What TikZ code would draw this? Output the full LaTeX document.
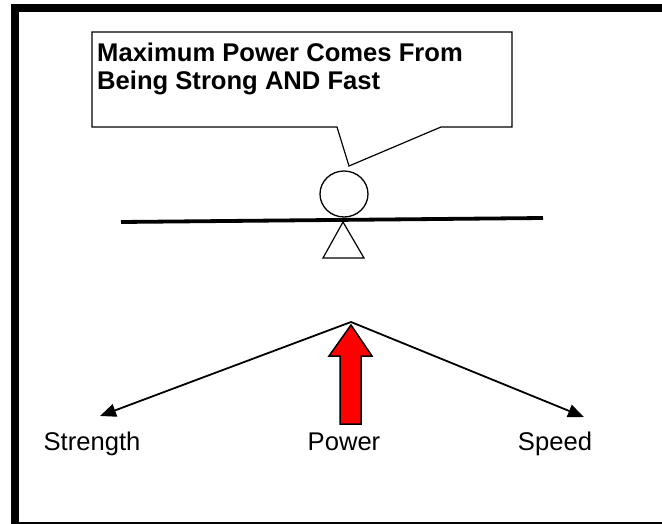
\documentclass[tikz,border=0pt]{standalone}
\usepackage{fontspec}
\setmainfont{Liberation Sans}
\usepackage{tikz}
\usetikzlibrary{arrows.meta,shapes.geometric}

\begin{document}
\begin{tikzpicture}[
    x=1pt,
    y=-1pt,
    every node/.style={font=\fontsize{25.6}{27}\selectfont, inner sep=0pt},
    frame/.style={draw, line width=8pt},
    callout/.style={draw, line width=1.2pt, line join=miter},
    title/.style={font=\fontsize{25.6}{27.5}\selectfont\bfseries, align=left},
    ball/.style={draw, ellipse, line width=1.3pt, minimum width=48pt, minimum height=46pt},
    beam/.style={line width=3.8pt},
    pivot/.style={draw, line width=1.2pt, line join=miter},
    force/.style={-{Triangle[length=16pt,width=13pt]}, line width=1.8pt},
    power/.style={draw, fill=red, line width=1.5pt, line join=miter},
    label/.style={anchor=base}
]
    \useasboundingbox (0,0) rectangle (662,524);
    \clip (0,0) rectangle (662,524);
    \draw[frame] (15,8) rectangle (670,526);

    % speech bubble
    \draw[callout] (92,32) -- (512,32) -- (512,127) -- (441,127)
        -- (349,166) -- (337,127) -- (92,127) -- cycle;
    \node[title, anchor=north west] (msg) at (97,43)
        {Maximum Power Comes From\\Being Strong AND Fast};

    % seesaw
    \node[ball] (head) at (344,194) {};
    \coordinate (beamL) at (121,222);
    \coordinate (beamR) at (543,218);
    \draw[beam] (beamL) -- (beamR);
    \draw[pivot] (343,222) -- (364,258) -- (323,258) -- cycle;

    % forces
    \coordinate (apex) at (351,322);
    \coordinate (toStrength) at (100,416);
    \coordinate (toSpeed) at (584,417);
    \draw[force] (apex) -- (toStrength);
    \draw[force] (apex) -- (toSpeed);
    \draw[power] (351,325) -- (372,356) -- (361,356) -- (361,424)
        -- (340,424) -- (340,356) -- (329,356) -- cycle;

    \node[label] (strength) at (92,450) {Strength};
    \node[label] (pow) at (344,450) {Power};
    \node[label] (speed) at (555,450) {Speed};
\end{tikzpicture}
\end{document}
